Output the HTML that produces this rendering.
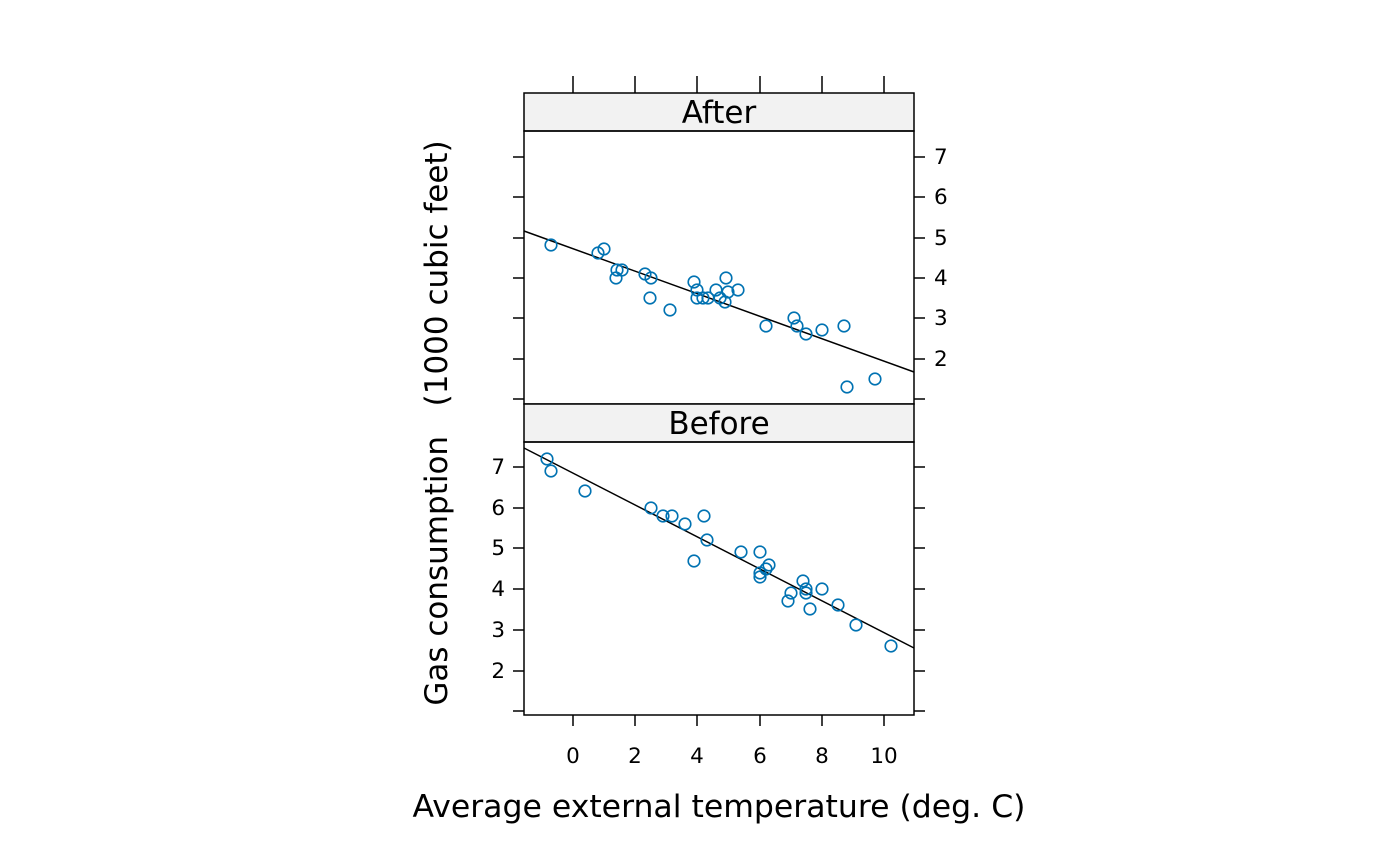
<!DOCTYPE html>
<html><head><style>body{margin:0;background:#fff}svg{display:block}</style></head><body>
<svg width="1400" height="866" xmlns="http://www.w3.org/2000/svg" font-family="'DejaVu Sans','Liberation Sans',sans-serif">
<g stroke="#000" stroke-width="1.5" fill="none">
<rect x="524" y="93" width="390" height="38" fill="#f2f2f2"/>
<rect x="524" y="131" width="390" height="273"/>
<rect x="524" y="404" width="390" height="38" fill="#f2f2f2"/>
<rect x="524" y="442" width="390" height="273"/>
<path d="M573 76V93M635 76V93M697 76V93M760 76V93M822 76V93M884 76V93"/>
<path d="M573 715V726M635 715V726M697 715V726M760 715V726M822 715V726M884 715V726"/>
<path d="M513 157H524M513 197H524M513 238H524M513 278H524M513 318H524M513 359H524M513 399H524"/>
<path d="M914 157H925M914 197H925M914 238H925M914 278H925M914 318H925M914 359H925M914 399H925"/>
<path d="M513 467H524M513 508H524M513 548H524M513 589H524M513 630H524M513 671H524M513 711H524"/>
<path d="M914 467H925M914 508H925M914 548H925M914 589H925M914 630H925M914 671H925M914 711H925"/>
<line x1="524" y1="231" x2="914" y2="372"/>
<line x1="524" y1="448" x2="914" y2="648"/>
</g>
<g stroke="#0072b2" stroke-width="1.6" fill="none">
<circle cx="551" cy="245" r="5.8"/><circle cx="598" cy="253" r="5.8"/><circle cx="604" cy="249" r="5.8"/><circle cx="617" cy="270" r="5.8"/><circle cx="622" cy="270" r="5.8"/><circle cx="616" cy="278" r="5.8"/><circle cx="645" cy="274" r="5.8"/><circle cx="651" cy="278" r="5.8"/><circle cx="650" cy="298" r="5.8"/><circle cx="670" cy="310" r="5.8"/><circle cx="694" cy="282" r="5.8"/><circle cx="697" cy="290" r="5.8"/><circle cx="697" cy="298" r="5.8"/><circle cx="703" cy="298" r="5.8"/><circle cx="708" cy="298" r="5.8"/><circle cx="716" cy="290" r="5.8"/><circle cx="720" cy="298" r="5.8"/><circle cx="726" cy="278" r="5.8"/><circle cx="728" cy="292" r="5.8"/><circle cx="725" cy="302" r="5.8"/><circle cx="738" cy="290" r="5.8"/><circle cx="766" cy="326" r="5.8"/><circle cx="794" cy="318" r="5.8"/><circle cx="797" cy="326" r="5.8"/><circle cx="806" cy="334" r="5.8"/><circle cx="822" cy="330" r="5.8"/><circle cx="844" cy="326" r="5.8"/><circle cx="847" cy="387" r="5.8"/><circle cx="875" cy="379" r="5.8"/>
<circle cx="547" cy="459" r="5.8"/><circle cx="551" cy="471" r="5.8"/><circle cx="585" cy="491" r="5.8"/><circle cx="651" cy="508" r="5.8"/><circle cx="663" cy="516" r="5.8"/><circle cx="672" cy="516" r="5.8"/><circle cx="685" cy="524" r="5.8"/><circle cx="694" cy="561" r="5.8"/><circle cx="704" cy="516" r="5.8"/><circle cx="707" cy="540" r="5.8"/><circle cx="741" cy="552" r="5.8"/><circle cx="760" cy="552" r="5.8"/><circle cx="760" cy="573" r="5.8"/><circle cx="760" cy="577" r="5.8"/><circle cx="766" cy="569" r="5.8"/><circle cx="769" cy="565" r="5.8"/><circle cx="788" cy="601" r="5.8"/><circle cx="791" cy="593" r="5.8"/><circle cx="803" cy="581" r="5.8"/><circle cx="806" cy="589" r="5.8"/><circle cx="806" cy="593" r="5.8"/><circle cx="810" cy="609" r="5.8"/><circle cx="822" cy="589" r="5.8"/><circle cx="838" cy="605" r="5.8"/><circle cx="856" cy="625" r="5.8"/><circle cx="891" cy="646" r="5.8"/>
</g>
<g font-size="31" text-anchor="middle" fill="#000">
<text x="719" y="123">After</text>
<text x="719" y="434">Before</text>
</g>
<g font-size="21.5" fill="#000">
<g text-anchor="start">
<text x="934" y="164">7</text><text x="934" y="204">6</text><text x="934" y="245">5</text><text x="934" y="285">4</text><text x="934" y="325">3</text><text x="934" y="366">2</text>
</g>
<g text-anchor="end">
<text x="505" y="474">7</text><text x="505" y="515">6</text><text x="505" y="555">5</text><text x="505" y="596">4</text><text x="505" y="637">3</text><text x="505" y="678">2</text>
</g>
<g text-anchor="middle">
<text x="573" y="763">0</text><text x="635" y="763">2</text><text x="697" y="763">4</text><text x="760" y="763">6</text><text x="822" y="763">8</text><text x="884" y="763">10</text>
</g>
</g>
<text x="719" y="817" font-size="31.5" text-anchor="middle">Average external temperature (deg. C)</text>
<text transform="translate(447,423) rotate(-90)" font-size="31" text-anchor="middle" xml:space="preserve">Gas consumption   (1000 cubic feet)</text>
</svg>
</body></html>
